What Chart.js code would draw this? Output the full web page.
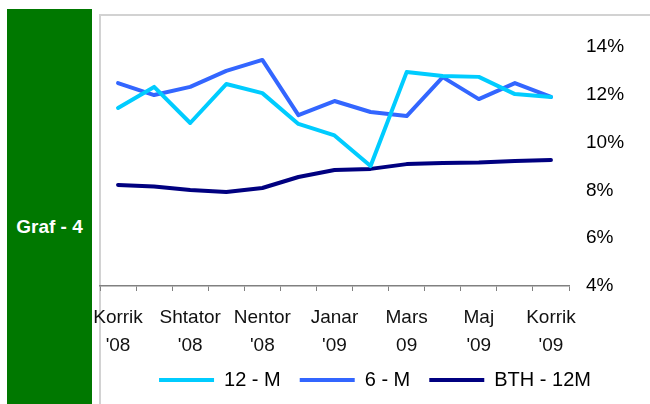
<!DOCTYPE html>
<html>
<head>
<meta charset="utf-8">
<script src="https://cdn.jsdelivr.net/npm/chart.js@4/dist/chart.umd.min.js"></script>
<style>
    body { margin: 0; background: #fff; width: 650px; height: 404px; overflow: hidden; position: relative; font-family: 'Liberation Sans', Arial, sans-serif; }
    #side { position: absolute; left: 7px; top: 9px; width: 85px; height: 395px; background: #007800; }
    #side span { position: absolute; left: 0; width: 85px; top: 207px; text-align: center; color: #fff; font-weight: bold; font-size: 19px; }
    #frame { position: absolute; left: 99px; top: 14px; width: 560px; height: 400px; border-top: 2px solid #d2d2d2; border-left: 2px solid #d2d2d2; }
    canvas { position: absolute; left: 0; top: 0; }
</style>
</head>
<body>
<div id="side"><span>Graf - 4</span></div>
<div id="frame"></div>
<canvas id="chart" width="650" height="404"></canvas>
<script>
// Months Jul '08 - Jul '09
const months = ['Korrik 08', 'Gusht 08', 'Shtator 08', 'Tetor 08', 'Nentor 08', 'Dhjetor 08',
    'Janar 09', 'Shkurt 09', 'Mars 09', 'Prill 09', 'Maj 09', 'Qershor 09', 'Korrik 09'];

// Only every other month gets a label on the axis
const tickLabels = [["Korrik", "'08"], ["Shtator", "'08"], ["Nentor", "'08"], ["Janar", "'09"],
    ["Mars", "09"], ["Maj", "'09"], ["Korrik", "'09"]];

const rate12M = [11.45, 12.33, 10.82, 12.45, 12.07, 10.78, 10.3, 9.02, 12.95, 12.79, 12.75, 12.03, 11.91];
const rate6M = [12.49, 11.99, 12.33, 13.0, 13.46, 11.15, 11.74, 11.28, 11.11, 12.74, 11.82, 12.49, 11.91];
const rateBTH = [8.23, 8.16, 8.02, 7.93, 8.1, 8.56, 8.85, 8.9, 9.1, 9.15, 9.17, 9.23, 9.27];

const yTicks = [4, 6, 8, 10, 12, 14];

Chart.defaults.font.family = "'Liberation Sans', Arial, sans-serif";
Chart.defaults.color = '#000';

function lineSet(label, data, color) {
    return {
        label: label,
        data: data,
        borderColor: color,
        backgroundColor: color,
        borderWidth: 4,
        borderCapStyle: 'round',
        borderJoinStyle: 'round',
        pointRadius: 0,
        tension: 0,
        fill: false
    };
}

new Chart(document.getElementById('chart'), {
    type: 'line',
    data: {
        labels: months,
        datasets: [
            lineSet('12 - M', rate12M, '#00ccff'),
            lineSet('6 - M', rate6M, '#3366ff'),
            lineSet('BTH - 12M', rateBTH, '#000080')
        ]
    },
    options: {
        responsive: false,
        animation: false,
        layout: { padding: { left: 100, top: 47, right: 0, bottom: 4 } },
        scales: {
            x: {
                offset: true,
                afterFit: scale => { scale.height = 65; },
                grid: { display: true, offset: true, drawOnChartArea: false, drawTicks: true, tickLength: 5, color: '#808080', lineWidth: 1 },
                border: { display: true, color: '#808080', width: 1.5 },
                ticks: {
                    autoSkip: false,
                    maxRotation: 0,
                    padding: 13,
                    color: '#111',
                    font: { size: 19, lineHeight: 1.47 },
                    callback: (v, i) => i % 2 === 0 ? tickLabels[i / 2] : ''
                }
            },
            y: {
                position: 'right',
                min: yTicks[0],
                max: yTicks[yTicks.length - 1],
                afterFit: scale => { scale.width = 81; },
                afterBuildTicks: scale => { scale.ticks = yTicks.map(v => ({ value: v })); },
                grid: { display: false, drawTicks: false },
                border: { display: false },
                ticks: {
                    padding: 17,
                    font: { size: 19 },
                    callback: v => v + '%'
                }
            }
        },
        plugins: {
            tooltip: { enabled: false },
            legend: {
                position: 'bottom',
                labels: {
                    usePointStyle: true,
                    pointStyle: 'line',
                    pointStyleWidth: 55,
                    padding: 19,
                    color: '#000',
                    font: { size: 20 }
                }
            }
        }
    }
});
</script>
</body>
</html>
